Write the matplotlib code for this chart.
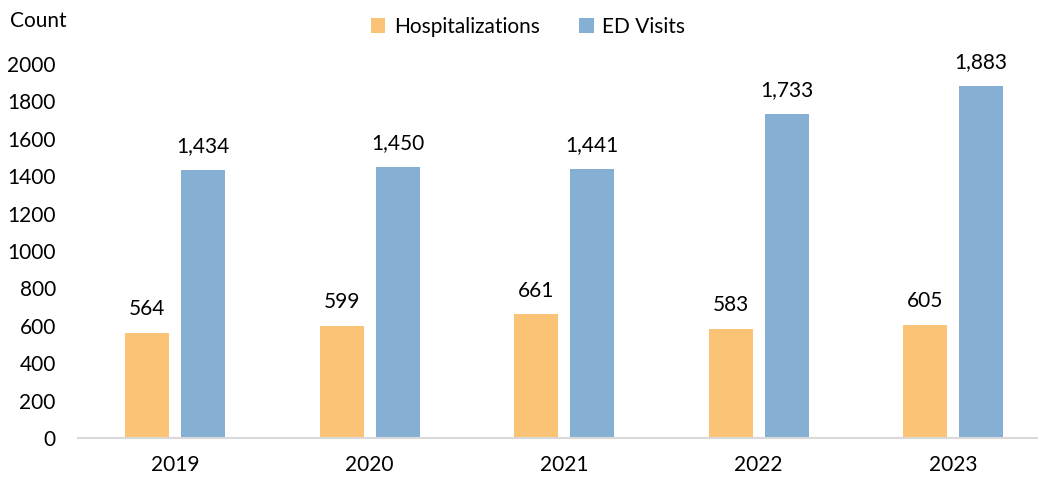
import matplotlib.pyplot as plt
import numpy as np

plt.rcParams['font.family'] = ['Lato', 'DejaVu Sans']

years = ['2019', '2020', '2021', '2022', '2023']
hospitalizations = [564, 599, 661, 583, 605]
ed_visits = [1434, 1450, 1441, 1733, 1883]
yticks = [0, 200, 400, 600, 800, 1000, 1200, 1400, 1600, 1800, 2000]

orange = '#FAC375'
blue = '#86AFD4'
txt = '#000000'

fig = plt.figure(figsize=(10.38, 4.8), dpi=100)
ax = fig.add_axes([78 / 1038, 42 / 480, 960 / 1038, 374 / 480])

x = np.arange(len(years))
w = 0.225
off = 0.144
b1 = ax.bar(x - off, hospitalizations, w, color=orange, label='Hospitalizations')
b2 = ax.bar(x + off, ed_visits, w, color=blue, label='ED Visits')

for bars in (b1, b2):
    for r in bars:
        ax.annotate(f'{int(r.get_height()):,}', (r.get_x() + r.get_width() / 2, r.get_height()),
                    xytext=(0, 10), textcoords='offset points', ha='center', va='bottom',
                    fontsize=15, color=txt)

ax.set_xlim(-0.5, 4.436)
ax.set_ylim(0, 2000)
ax.set_yticks(yticks)
ax.set_xticks(x)
ax.set_xticklabels(years)
ax.tick_params(axis='both', length=0, labelsize=15, colors=txt)
ax.tick_params(axis='y', pad=16)
ax.tick_params(axis='x', pad=12)
for s in ['top', 'right', 'left']:
    ax.spines[s].set_visible(False)
ax.spines['bottom'].set_color('#d9d9d9')
ax.spines['bottom'].set_linewidth(1.5)

fig.text(10 / 1038, 1 - 21 / 480, 'Count', fontsize=15, va='center', ha='left', color=txt)

fig.legend(loc='center', bbox_to_anchor=(528 / 1038, 1 - 27 / 480), ncol=2, frameon=False,
           fontsize=15, handlelength=0.7, handleheight=0.7, handletextpad=0.4, columnspacing=1.9,
           labelcolor=txt)

fig.savefig('out.png', dpi=100)
